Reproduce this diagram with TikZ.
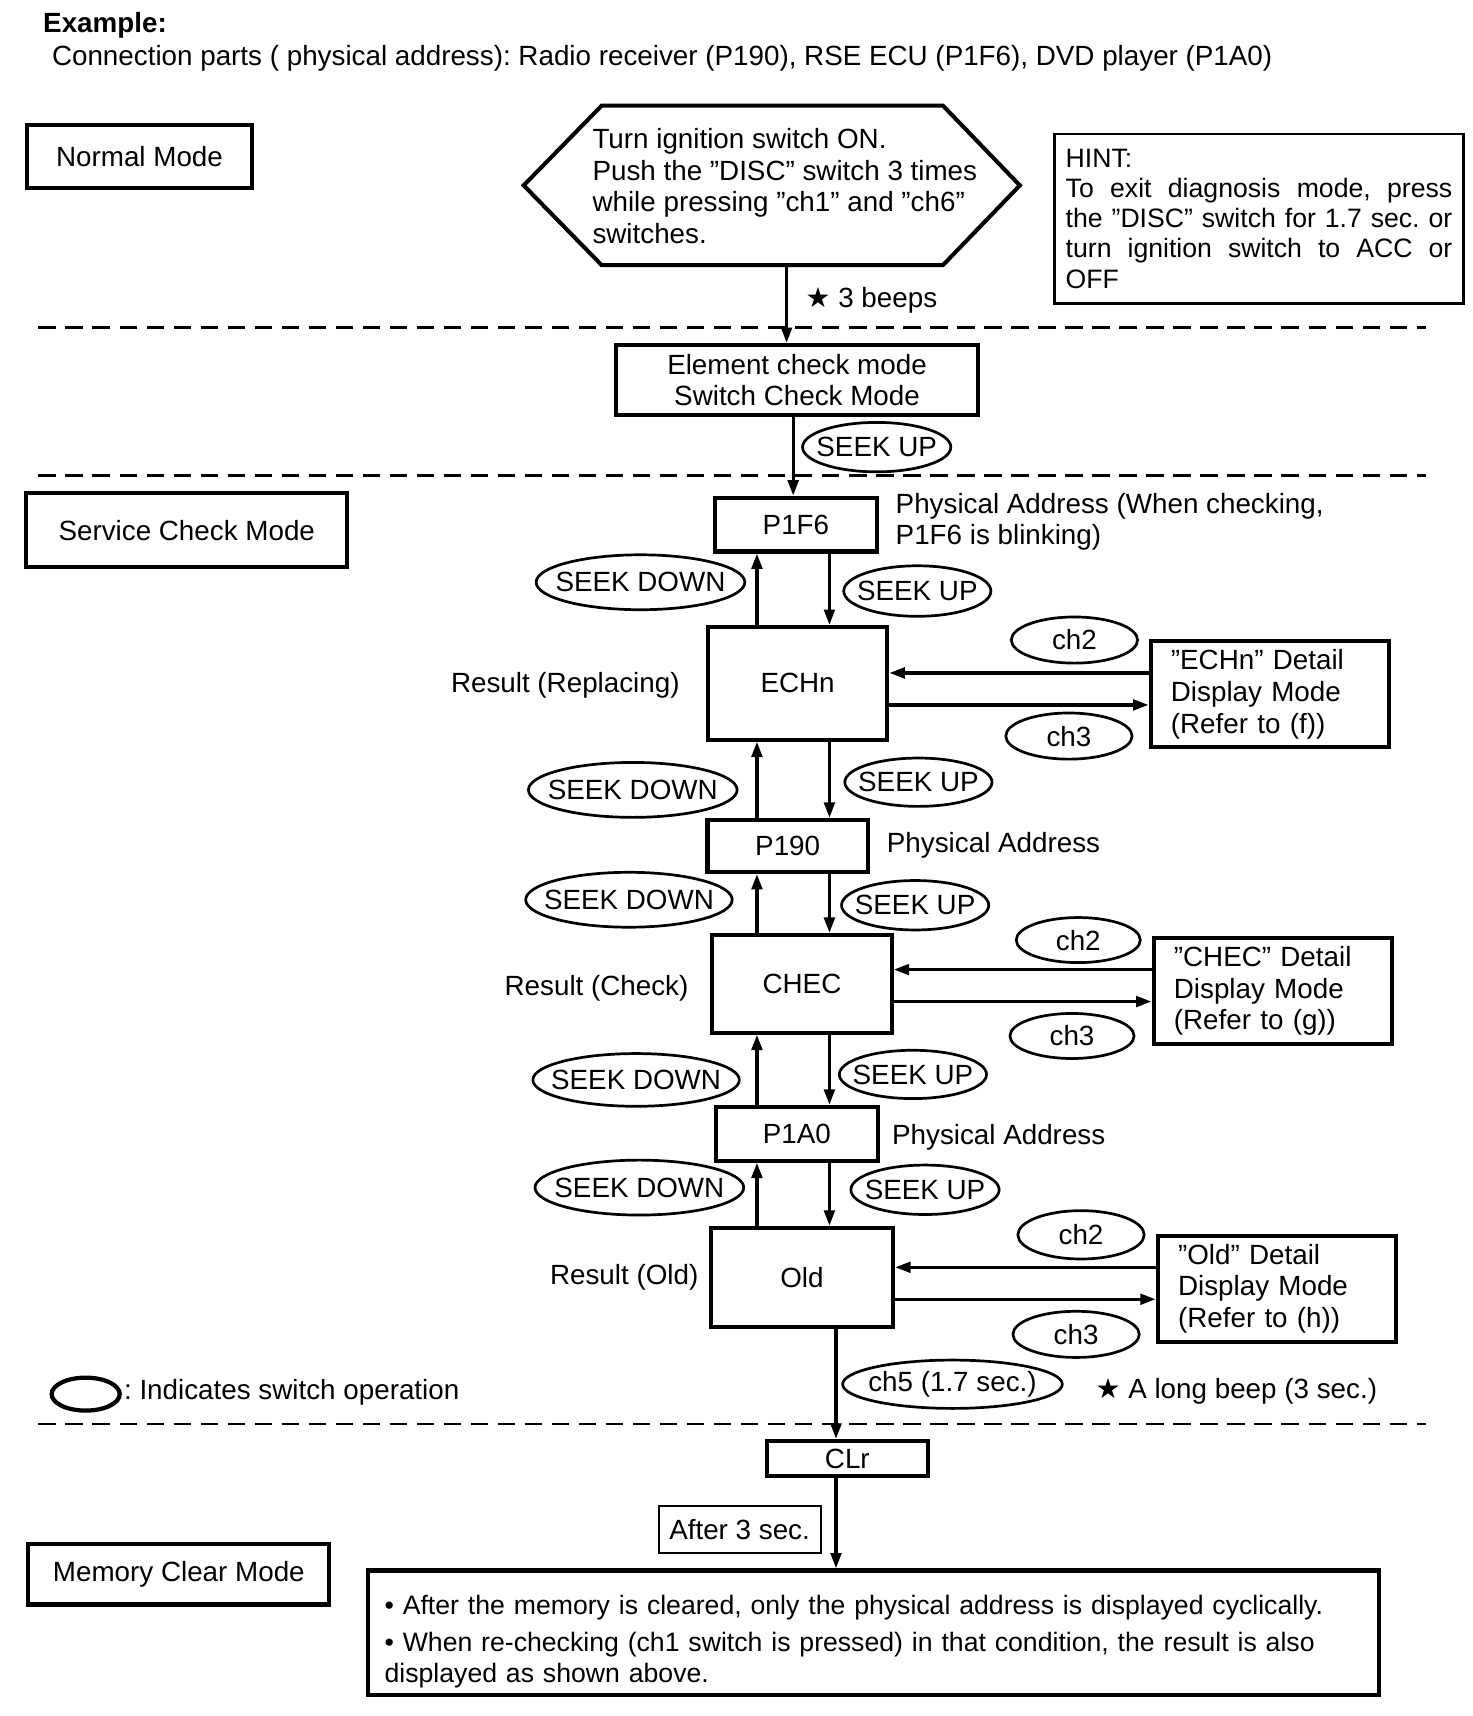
\documentclass[tikz,border=0pt]{standalone}
\usepackage{fontspec}
\setmainfont{Liberation Sans}
\newfontfamily\starfont{DejaVu Sans}
\usepackage{tikz}
\usetikzlibrary{arrows.meta,shapes.geometric}
\frenchspacing
\newcommand{\flowfont}{\fontsize{14.4pt}{16.5pt}\selectfont}
\newcommand{\swtext}[1]{\makebox[0pt]{#1}}
\tikzset{plain text/.style={inner sep=0pt, font=\flowfont},
  state box/.style 2 args={
    draw, line width=2.1pt,
    inner sep=0pt,
    minimum width=#1,
    minimum height=#2,
    align=center,
    font=\flowfont
  },
  detail box/.style={
    draw, line width=2.1pt,
    text width=3.6cm, inner xsep=0.37cm,
    minimum height=1.93cm,
    align=left,
    font=\flowfont
  },
  switch op/.style 2 args={
    draw, ellipse, line width=1.4pt,
    inner sep=0pt,
    minimum width=#1,
    minimum height=#2,
    font=\flowfont
  },
  flow/.style={line width=1.7pt, -{Triangle[length=8pt,width=5.5pt]}},
  divider/.style={line width=1.3pt, dash pattern=on 9pt off 5pt}
}

\begin{document}
\begin{tikzpicture}[x=0.02cm, y=-0.02cm]
    \useasboundingbox (0,0) rectangle (1340,1562);
    \node[plain text, font=\flowfont\bfseries, anchor=west] (title) at (39,23) {Example:};
    \node[plain text, anchor=west] (parts) at (47,53) {Connection parts ( physical address): Radio receiver (P190), RSE ECU (P1F6), DVD player (P1A0)};

    \node[state box={4.1cm}{1.15cm}] (normal) at (127,142.6) {Normal Mode};
    \node[state box={5.84cm}{1.34cm}] (service) at (170,482.5) {Service Check Mode};
    \node[state box={5.48cm}{1.1cm}] (memory) at (162.8,1433) {Memory Clear Mode};

    \node[minimum width=9.02cm, minimum height=2.89cm, inner sep=0pt] (hex) at (702.5,168.75) {};
    \draw[line width=2.1pt] (hex.west) -- ([xshift=1.42cm]hex.north west) -- ([xshift=-1.4cm]hex.north east)
        -- (hex.east) -- ([xshift=-1.4cm]hex.south east) -- ([xshift=1.42cm]hex.south west) -- cycle;
    \node[plain text, align=left, anchor=west, font=\fontsize{14.4pt}{16.3pt}\selectfont] (start) at (539,169.5) {Turn ignition switch ON.\\Push the ”DISC” switch 3 times\\while pressing ”ch1” and ”ch6”\\switches.};
    \node[draw, line width=1.5pt, text width=7.04cm, inner xsep=0.2cm, minimum height=3.08cm, align=left,
        font=\fontsize{13.8pt}{15.7pt}\selectfont] (hint) at (1146,199) {HINT:\\
        \makebox[7.04cm]{To \hfill exit \hfill diagnosis \hfill mode, \hfill press}\\
        \makebox[7.04cm]{the \hfill ”DISC” \hfill switch \hfill for \hfill 1.7 \hfill sec. \hfill or}\\
        \makebox[7.04cm]{turn \hfill ignition \hfill switch \hfill to \hfill ACC \hfill or}\\
        OFF};
    \node[plain text, anchor=west] (beeps) at (733,273) {{\starfont ★} 3 beeps};

    \node[state box={6.58cm}{1.28cm}] (elem) at (725.5,346) {Element check mode\\Switch Check Mode};
    \node[switch op={2.7cm}{0.9cm}] (seek0) at (798,407) {\swtext{SEEK UP}};

    \node[state box={2.94cm}{0.98cm}] (p1f6) at (724.5,477.5) {P1F6};
    \node[state box={3.27cm}{2.05cm}] (echn) at (726,622) {ECHn};
    \node[state box={2.92cm}{0.95cm}] (p190) at (717,770) {P190};
    \node[state box={3.27cm}{1.78cm}] (chec) at (730,895.5) {CHEC};
    \node[state box={2.96cm}{0.98cm}] (p1a0) at (725.3,1032) {P1A0};
    \node[state box={3.32cm}{1.8cm}] (old) at (730,1162.6) {Old};

    \node[plain text, align=left, anchor=west] (p1f6-note) at (815,475) {Physical Address (When checking,\\P1F6 is blinking)};
    \node[plain text, anchor=west] (p190-note) at (807,769) {Physical Address};
    \node[plain text, anchor=west] (p1a0-note) at (811.7,1035) {Physical Address};
    \node[plain text, anchor=east] (echn-note) at (619,624) {Result (Replacing)};
    \node[plain text, anchor=east] (chec-note) at (627,900) {Result (Check)};
    \node[plain text, anchor=east] (old-note) at (636,1163) {Result (Old)};

    \node[switch op={3.8cm}{1.0cm}] (down1) at (583,530) {\swtext{SEEK DOWN}};
    \node[switch op={2.68cm}{0.92cm}] (up1) at (835,538) {\swtext{SEEK UP}};
    \node[switch op={3.8cm}{1.0cm}] (down2) at (576,719) {\swtext{SEEK DOWN}};
    \node[switch op={2.68cm}{0.88cm}] (up2) at (836,712) {\swtext{SEEK UP}};
    \node[switch op={3.76cm}{1.0cm}] (down3) at (572.5,819) {\swtext{SEEK DOWN}};
    \node[switch op={2.68cm}{0.9cm}] (up3) at (833,824) {\swtext{SEEK UP}};
    \node[switch op={3.76cm}{0.96cm}] (down4) at (579,983) {\swtext{SEEK DOWN}};
    \node[switch op={2.68cm}{0.88cm}] (up4) at (831,978) {\swtext{SEEK UP}};
    \node[switch op={3.8cm}{1.0cm}] (down5) at (582,1081) {\swtext{SEEK DOWN}};
    \node[switch op={2.7cm}{0.9cm}] (up5) at (842,1083) {\swtext{SEEK UP}};

    \node[detail box] (echn-detail) at (1155.8,632) {”ECHn” Detail\\Display Mode\\(Refer to (f))};
    \node[detail box] (chec-detail) at (1158.5,902) {”CHEC” Detail\\Display Mode\\(Refer to (g))};
    \node[detail box] (old-detail) at (1162.3,1173) {”Old” Detail\\Display Mode\\(Refer to (h))};
    \node[switch op={2.3cm}{0.84cm}] (ch2a) at (978,582.6) {\swtext{ch2}};
    \node[switch op={2.3cm}{0.84cm}] (ch3a) at (973,670) {\swtext{ch3}};
    \node[switch op={2.26cm}{0.82cm}] (ch2b) at (981.5,855.7) {\swtext{ch2}};
    \node[switch op={2.26cm}{0.82cm}] (ch3b) at (975.8,943) {\swtext{ch3}};
    \node[switch op={2.3cm}{0.88cm}] (ch2c) at (984,1124) {\swtext{ch2}};
    \node[switch op={2.3cm}{0.84cm}] (ch3c) at (979.5,1214.6) {\swtext{ch3}};

    \node[switch op={4.0cm}{0.88cm}] (ch5) at (867,1260) {\swtext{ch5 (1.7 sec.)}};
    \node[plain text, anchor=west] (longbeep) at (997,1266) {{\starfont ★} A long beep (3 sec.)};
    \node[switch op={1.24cm}{0.6cm}, line width=2.2pt] (legend) at (78,1269) {};
    \node[plain text, anchor=west] (legend-text) at (112.6,1267) {: Indicates switch operation};

    \node[state box={2.93cm}{0.64cm}] (clr) at (771.3,1327.6) {CLr};
    \node[state box={2.95cm}{0.85cm}, line width=1pt] (wait) at (673.2,1392.2) {After 3 sec.};
    \node[draw, line width=2.1pt, text width=17.8cm, inner xsep=0.3cm, minimum height=2.2cm, align=left,
        font=\fontsize{13.8pt}{16.2pt}\selectfont] (result) at (795,1486) {\rule{0pt}{0.68cm}• After the memory is cleared, only the physical address is displayed cyclically.\\[3pt]
        • When re-checking (ch1 switch is pressed) in that condition, the result is also\\displayed as shown above.};

    \draw[divider] (35,298) -- (1298,298);
    \draw[divider] (35,433) -- (1298,433);
    \draw[divider] (35,1296) -- (1298,1296);

    \coordinate (col0) at (716,0);
    \coordinate (col1) at (722,0);
    \coordinate (upcol) at (689,0);
    \coordinate (downcol) at (755,0);
    \coordinate (col2) at (761,0);
    \draw[flow] (hex.south -| col0) -- (elem.north -| col0);
    \draw[flow] (elem.south -| col1) -- (p1f6.north -| col1);
    \foreach \a/\b in {p1f6/echn, echn/p190, p190/chec, chec/p1a0, p1a0/old} {
        \draw[flow] (\b.north -| upcol) -- (\a.south -| upcol);
        \draw[flow] (\a.south -| downcol) -- (\b.north -| downcol);
    }
    \foreach \m in {echn, chec, old} {
        \draw[flow] (\m-detail.170) -- (\m-detail.170 -| \m.east);
        \draw[flow] (\m-detail.185 -| \m.east) -- (\m-detail.185);
    }
    \draw[flow] (old.south -| col2) -- (clr.north -| col2);
    \draw[flow] (clr.south -| col2) -- (result.north -| col2);
\end{tikzpicture}
\end{document}
